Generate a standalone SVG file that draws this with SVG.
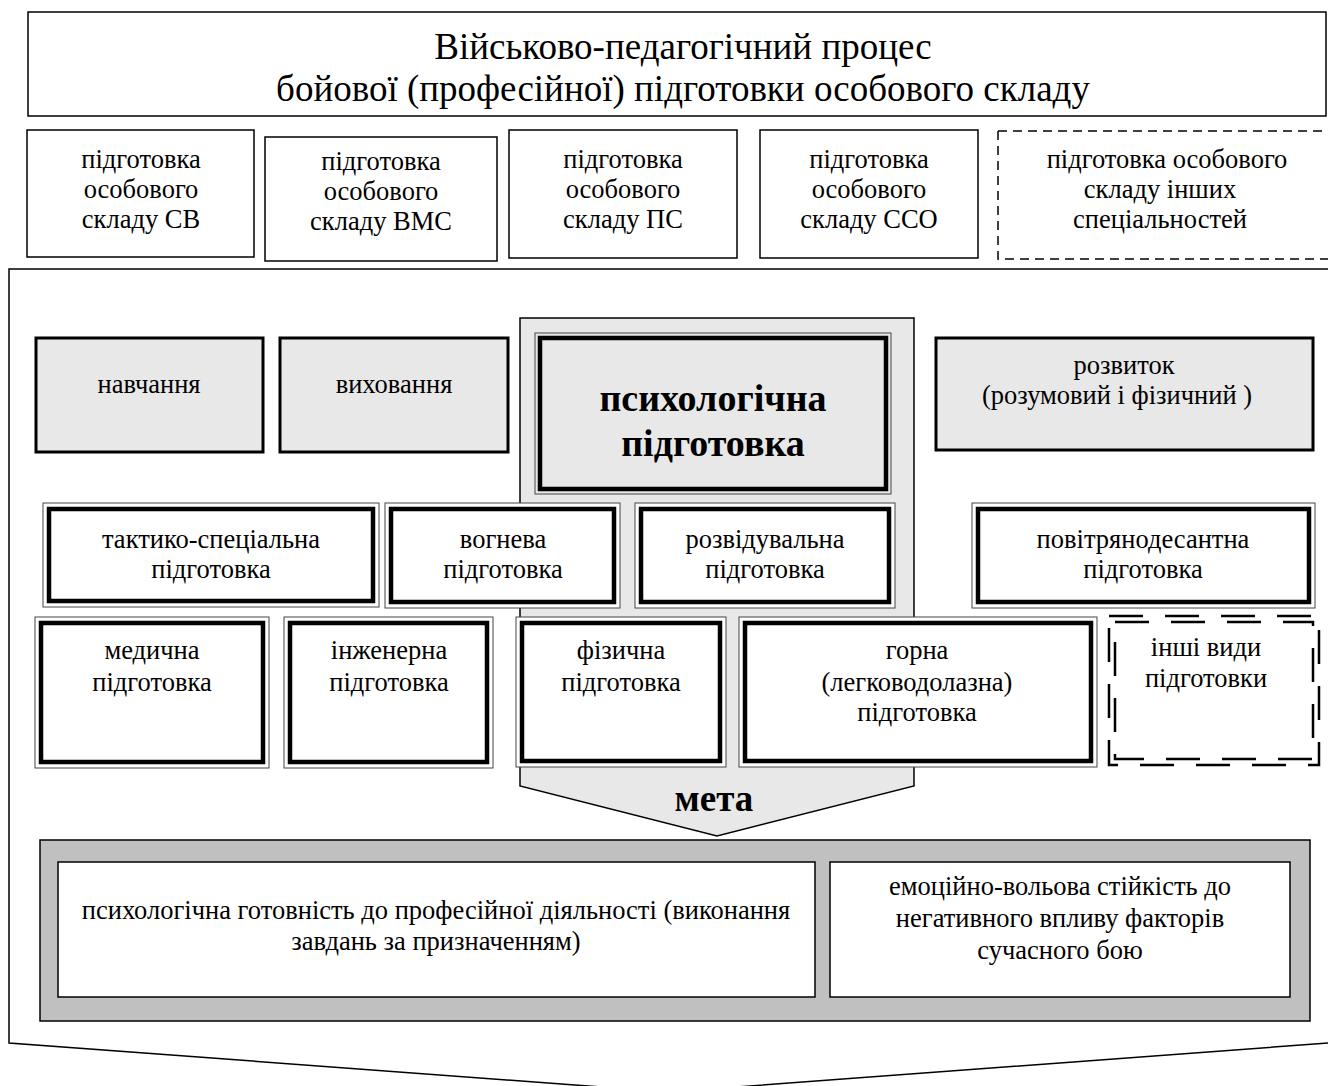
<svg xmlns="http://www.w3.org/2000/svg" width="1328" height="1086" viewBox="0 0 1328 1086">
<style>
text{font-family:"Liberation Serif","Times New Roman",serif;fill:#000;text-anchor:middle}
.t{font-size:26.5px}
.title{font-size:37px}
.b{font-weight:bold}
.thin{fill:#fff;stroke:#000;stroke-width:1.5}
.gr{fill:#e8e8e8;stroke:#000;stroke-width:3}
.dout{fill:#fff;stroke:#444;stroke-width:1}
.din{fill:none;stroke:#000;stroke-width:4.5}
.dash{fill:#fff;stroke:#000;stroke-width:1.5;stroke-dasharray:9 6}
.dd{fill:none;stroke:#000;stroke-width:2.5;stroke-dasharray:34 22}
</style>
<rect width="1328" height="1086" fill="#fff"/>
<g id="frame">
<polygon points="9,269 1340,269 1340,1043 1328,1043 669,1092 9,1043" fill="#fff" stroke="#000" stroke-width="1.5"/>
</g>
<g id="title">
<rect x="28" y="12" width="1298" height="104" class="thin"/>
<text class="title" x="683" y="59">Військово-педагогічний процес</text>
<text class="title" x="683" y="101">бойової (професійної) підготовки особового складу</text>
</g>
<g id="sv">
<rect x="27" y="130" width="227" height="127" class="thin"/>
<text class="t" x="141" y="168">підготовка</text>
<text class="t" x="141" y="198">особового</text>
<text class="t" x="141" y="228">складу СВ</text>
</g>
<g id="vms">
<rect x="265" y="137" width="232" height="124" class="thin"/>
<text class="t" x="381" y="170">підготовка</text>
<text class="t" x="381" y="200">особового</text>
<text class="t" x="381" y="230">складу ВМС</text>
</g>
<g id="ps">
<rect x="509" y="130" width="228" height="128" class="thin"/>
<text class="t" x="623" y="168">підготовка</text>
<text class="t" x="623" y="198">особового</text>
<text class="t" x="623" y="228">складу ПС</text>
</g>
<g id="sso">
<rect x="760" y="130" width="218" height="128" class="thin"/>
<text class="t" x="869" y="168">підготовка</text>
<text class="t" x="869" y="198">особового</text>
<text class="t" x="869" y="228">складу ССО</text>
</g>
<g id="other-spec">
<path d="M998,131 H1330 M998,131 V259 H1330" class="dash" fill="none"/>
<text class="t" x="1167" y="168">підготовка особового</text>
<text class="t" x="1160" y="198">складу  інших</text>
<text class="t" x="1160" y="228">спеціальностей</text>
</g>
<g id="psych-arrow">
<polygon points="520,318 914,318 914,786 717,836 520,786" fill="#e8e8e8" stroke="#000" stroke-width="1.5"/>
<text class="b" x="714" y="811" style="font-size:37px">мета</text>
</g>
<g id="navchannia">
<rect x="36" y="338" width="227" height="114" class="gr"/>
<text class="t" x="149" y="393">навчання</text>
</g>
<g id="vykhovannia">
<rect x="280" y="338" width="228" height="114" class="gr"/>
<text class="t" x="394" y="393">виховання</text>
</g>
<g id="psych">
<rect x="535" y="333" width="356" height="161" class="dout" style="fill:#e8e8e8"/>
<rect x="540" y="338" width="346" height="151" class="din"/>
<text class="b" x="713" y="411" style="font-size:38px">психологічна</text>
<text class="b" x="713" y="456" style="font-size:38px">підготовка</text>
</g>
<g id="rozvytok">
<rect x="936" y="338" width="377" height="112" class="gr"/>
<text class="t" x="1124" y="374">розвиток</text>
<text class="t" x="1117" y="404">(розумовий і фізичний )</text>
</g>
<g id="taktyko">
<rect x="43" y="503" width="336" height="104" class="dout"/>
<rect x="49" y="509" width="324" height="92" class="din"/>
<text class="t" x="211" y="548">тактико-спеціальна</text>
<text class="t" x="211" y="578">підготовка</text>
</g>
<g id="vohneva">
<rect x="385" y="503" width="235" height="105" class="dout"/>
<rect x="391" y="509" width="223" height="93" class="din"/>
<text class="t" x="503" y="548">вогнева</text>
<text class="t" x="503" y="578">підготовка</text>
</g>
<g id="rozviduvalna">
<rect x="635" y="503" width="260" height="105" class="dout"/>
<rect x="641" y="509" width="248" height="93" class="din"/>
<text class="t" x="765" y="548">розвідувальна</text>
<text class="t" x="765" y="578">підготовка</text>
</g>
<g id="povitriano">
<rect x="972" y="503" width="343" height="105" class="dout"/>
<rect x="978" y="509" width="331" height="93" class="din"/>
<text class="t" x="1143" y="548">повітрянодесантна</text>
<text class="t" x="1143" y="578">підготовка</text>
</g>
<g id="medychna">
<rect x="35" y="617" width="234" height="151" class="dout"/>
<rect x="41" y="623" width="222" height="139" class="din"/>
<text class="t" x="152" y="659">медична</text>
<text class="t" x="152" y="691">підготовка</text>
</g>
<g id="inzhenerna">
<rect x="284" y="617" width="209" height="151" class="dout"/>
<rect x="290" y="623" width="197" height="139" class="din"/>
<text class="t" x="389" y="659">інженерна</text>
<text class="t" x="389" y="691">підготовка</text>
</g>
<g id="fizychna">
<rect x="516" y="617" width="210" height="150" class="dout"/>
<rect x="522" y="623" width="198" height="138" class="din"/>
<text class="t" x="621" y="659">фізична</text>
<text class="t" x="621" y="691">підготовка</text>
</g>
<g id="horna">
<rect x="739" y="617" width="358" height="150" class="dout"/>
<rect x="745" y="623" width="346" height="138" class="din"/>
<text class="t" x="917" y="659">горна</text>
<text class="t" x="917" y="691">(легководолазна)</text>
<text class="t" x="917" y="721">підготовка</text>
</g>
<g id="inshi">
<rect x="1109" y="616" width="210" height="149" fill="#fff" stroke="none"/>
<rect x="1109" y="616" width="210" height="149" class="dd"/>
<rect x="1115" y="622" width="198" height="137" class="dd"/>
<text class="t" x="1206" y="656">інші види</text>
<text class="t" x="1206" y="687">підготовки</text>
</g>
<g id="goal">
<rect x="40" y="840" width="1270" height="181" fill="#c0c0c0" stroke="#000" stroke-width="1.5"/>
<rect x="58" y="862" width="757" height="135" class="thin"/>
<text class="t" x="436" y="919">психологічна готовність до професійної діяльності (виконання</text>
<text class="t" x="436" y="950">завдань за призначенням)</text>
<rect x="830" y="862" width="460" height="135" class="thin"/>
<text class="t" x="1060" y="895">емоційно-вольова стійкість до</text>
<text class="t" x="1060" y="927">негативного впливу факторів</text>
<text class="t" x="1060" y="959">сучасного бою</text>
</g>
<g id="connectors"/>
</svg>
